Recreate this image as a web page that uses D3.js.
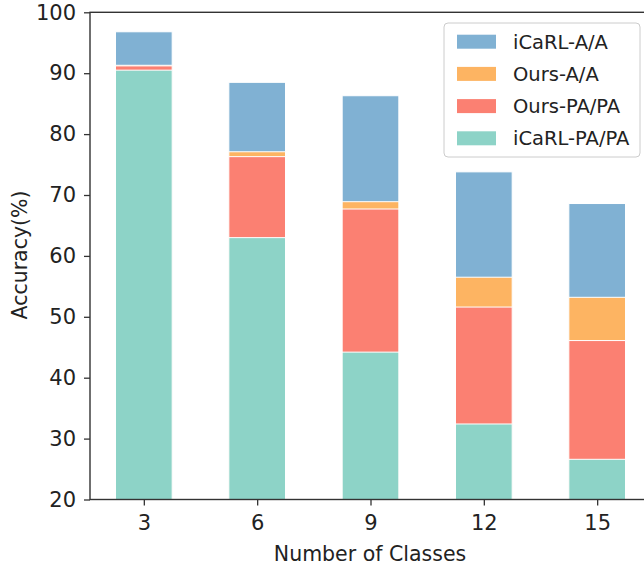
<!DOCTYPE html>
<html>
<head>
<meta charset="utf-8">
<script src="https://cdn.jsdelivr.net/npm/d3@7"></script>
<style>
  body { margin: 0; background: #fff; }
  svg { display: block; font-family: "DejaVu Sans", sans-serif; }
</style>
</head>
<body>
<svg id="chart" width="644" height="567"></svg>
<script>
// ================= DATA =================
const classes = ["3", "6", "9", "12", "15"];
const icarlAA = [96.8, 88.5, 86.3, 73.8, 68.6];
const oursAA = [91.3, 77.1, 68.9, 56.5, 53.2];
const oursPAPA = [91.2, 76.3, 67.7, 51.6, 46.1];
const icarlPAPA = [90.5, 63.0, 44.2, 32.4, 26.6];
const yTicks = [20, 30, 40, 50, 60, 70, 80, 90, 100];

// plotting order = legend order (back to front)
const series = [
  { name: "iCaRL-A/A", values: icarlAA, color: "#80b1d3" },
  { name: "Ours-A/A", values: oursAA, color: "#fdb462" },
  { name: "Ours-PA/PA", values: oursPAPA, color: "#fb8072" },
  { name: "iCaRL-PA/PA", values: icarlPAPA, color: "#8dd3c7" },
];

// ================= LAYOUT =================
const plot = { left: 90, right: 651, top: 12.3, bottom: 499.5 };
const barWidth = 0.5;

const svg = d3.select("#chart");

const x = d3.scaleLinear()
  .domain([-0.475, classes.length - 1 + 0.475])
  .range([plot.left, plot.right]);

const y = d3.scaleLinear()
  .domain([20, 100])
  .range([plot.bottom, plot.top]);

// ---------- bars (overlapping, each from baseline) ----------
const bars = svg.append("g");
series.forEach((s) => {
  bars.append("g")
    .selectAll("rect")
    .data(s.values)
    .join("rect")
    .attr("x", (d, i) => x(i - barWidth / 2))
    .attr("width", x(barWidth) - x(0))
    .attr("y", (d) => y(d))
    .attr("height", (d) => y(20) - y(d))
    .attr("fill", s.color)
    .attr("stroke", "#ffffff")
    .attr("stroke-width", 1);
});

// ---------- axes ----------
const xAxis = svg.append("g")
  .attr("transform", `translate(0,${plot.bottom})`)
  .call(
    d3.axisBottom(x)
      .tickValues(d3.range(classes.length))
      .tickFormat((i) => classes[i])
      .tickSize(6)
      .tickPadding(9.5)
  );

const yAxis = svg.append("g")
  .attr("transform", `translate(${plot.left},0)`)
  .call(d3.axisLeft(y).tickValues(yTicks).tickSize(6).tickPadding(8));

[xAxis, yAxis].forEach((a) => {
  a.select(".domain").remove();
  a.selectAll(".tick line").attr("stroke", "#333").attr("stroke-width", 1.3);
  a.selectAll(".tick text")
    .attr("fill", "#222")
    .style("font-size", "21px")
    .style("font-family", "DejaVu Sans");
});

// spines
svg.append("rect")
  .attr("x", plot.left)
  .attr("y", plot.top)
  .attr("width", plot.right - plot.left)
  .attr("height", plot.bottom - plot.top)
  .attr("fill", "none")
  .attr("stroke", "#333")
  .attr("stroke-width", 1.4);

// axis labels
svg.append("text")
  .attr("x", 370)
  .attr("y", 561)
  .attr("text-anchor", "middle")
  .style("font-size", "20.5px")
  .attr("fill", "#222")
  .text("Number of Classes");

svg.append("text")
  .attr("transform", `translate(27,255) rotate(-90)`)
  .attr("text-anchor", "middle")
  .style("font-size", "20.5px")
  .attr("fill", "#222")
  .text("Accuracy(%)");

// ---------- legend ----------
const legend = svg.append("g").attr("transform", "translate(444,23)");
legend.append("rect")
  .attr("width", 196)
  .attr("height", 134)
  .attr("rx", 4)
  .attr("fill", "#fff")
  .attr("fill-opacity", 0.8)
  .attr("stroke", "#cccccc")
  .attr("stroke-width", 1);

const item = legend.selectAll(".item")
  .data(series)
  .join("g")
  .attr("class", "item")
  .attr("transform", (d, i) => `translate(0,${18.7 + i * 32.2})`);

item.append("rect")
  .attr("x", 13)
  .attr("y", -7)
  .attr("width", 39)
  .attr("height", 14)
  .attr("fill", (d) => d.color);

item.append("text")
  .attr("x", 69)
  .attr("dy", "0.36em")
  .style("font-size", "19.5px")
  .attr("fill", "#222")
  .text((d) => d.name);
</script>
</body>
</html>
